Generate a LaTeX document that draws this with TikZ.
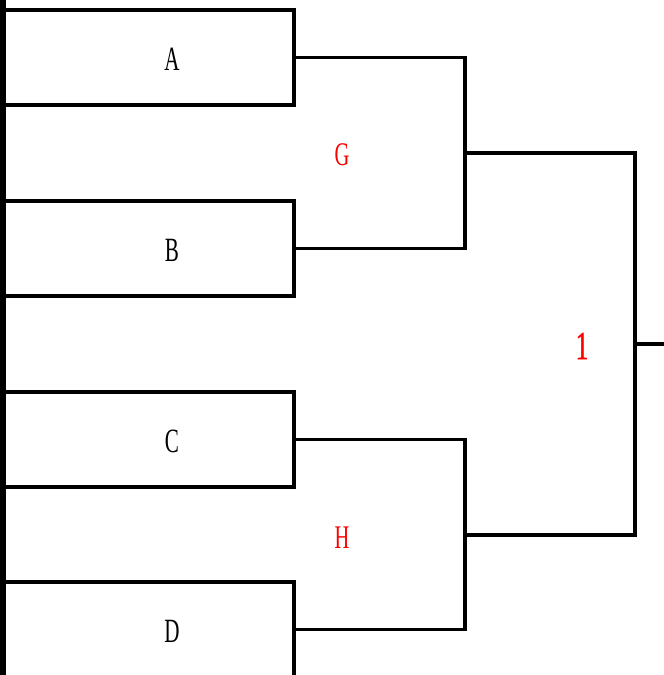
\documentclass[tikz,border=0pt]{standalone}
\usepackage{fontspec}
\newfontfamily\narrowfont[FakeStretch=0.62]{Liberation Serif}
\newfontfamily\narrowbold[FakeStretch=0.62, FakeBold=1.2]{Liberation Serif}
\tikzset{
    team/.style={draw, line width=3.2pt, minimum width=291pt, minimum height=95pt, inner sep=0pt},
    teamlabel/.style={font=\narrowfont\fontsize{34}{34}\selectfont},
    winlabel/.style={text=red, font=\narrowfont\fontsize{33}{33}\selectfont},
    bracket/.style={line width=3.2pt}
}
\begin{document}
\begin{tikzpicture}[x=1pt, y=-1pt]
    \useasboundingbox (0, 0) rectangle (664, 675);
    \clip (0, 0) rectangle (664, 675);

    % Team boxes
    \node[team] (A) at (148.5, 57.5) {};
    \node[team] (B) at (148.5, 248.5) {};
    \node[team] (C) at (148.5, 439.5) {};
    \node[team] (D) at (148.5, 629.5) {};

    % Team names
    \node[teamlabel] (nA) at (172, 59) {A};
    \node[teamlabel] (nB) at (172, 250) {B};
    \node[teamlabel] (nC) at (172, 441) {C};
    \node[teamlabel] (nD) at (172, 631) {D};

    % Left bar
    \draw[line width=6pt] (2.5, 0) -- (2.5, 675);

    % First round brackets
    \coordinate (g) at (465, 153);
    \coordinate (h) at (465, 535);
    \draw[bracket] (A.east) -| (g) |- (B.east);
    \draw[bracket] (C.east) -| (h) |- (D.east);
    \node[winlabel] (G) at (342, 155) {G};
    \node[winlabel] (H) at (342, 538) {H};

    % Final bracket
    \coordinate (f) at (635, 344);
    \coordinate (out) at (664, 344);
    \draw[bracket] (g) -| (f) |- (h);
    \draw[bracket] (f) -- (out);
    \node[winlabel, font=\narrowbold\fontsize{40}{40}\selectfont] (one) at (582, 346) {1};
\end{tikzpicture}
\end{document}
